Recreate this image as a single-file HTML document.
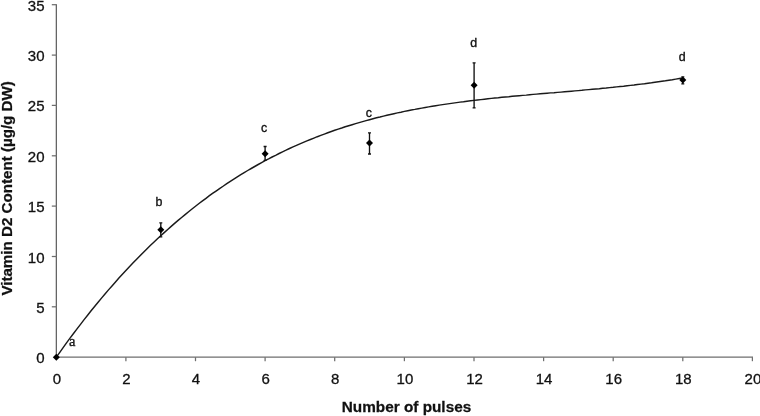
<!DOCTYPE html>
<html><head><meta charset="utf-8"><title>Vitamin D2 content vs number of pulses</title>
<style>
html,body{margin:0;padding:0;background:#fff;}
svg{display:block;filter:blur(0.4px);}
text{font-family:"Liberation Sans",Arial,Helvetica,sans-serif;fill:#111;}
.t{font-size:15px;stroke:#111;stroke-width:0.3px;}
.b{font-size:14.5px;font-weight:bold;stroke:#111;stroke-width:0.25px;}
.l{font-size:12.4px;stroke:#111;stroke-width:0.35px;}
.s{font-family:"Liberation Serif","Times New Roman",serif;font-size:14.5px;stroke:#111;stroke-width:0.3px;}
</style></head><body>
<svg width="760" height="416" viewBox="0 0 760 416">
<rect width="760" height="416" fill="#fff"/>
<g stroke="#6e6e6e" stroke-width="1.25" fill="none">
<path d="M56.3,4.7 V357.2" stroke="#4a4a4a" stroke-width="1.1"/>
<path d="M56.3,357.2 H753.0"/>
<path d="M51.8,306.8 H56.9"/>
<path d="M51.8,256.5 H56.9"/>
<path d="M51.8,206.1 H56.9"/>
<path d="M51.8,155.8 H56.9"/>
<path d="M51.8,105.4 H56.9"/>
<path d="M51.8,55.1 H56.9"/>
<path d="M51.8,4.7 H56.9"/>
<path d="M125.9,357.2 v4"/>
<path d="M195.5,357.2 v4"/>
<path d="M265.1,357.2 v4"/>
<path d="M334.7,357.2 v4"/>
<path d="M404.4,357.2 v4"/>
<path d="M474.0,357.2 v4"/>
<path d="M543.6,357.2 v4"/>
<path d="M613.2,357.2 v4"/>
<path d="M682.8,357.2 v4"/>
<path d="M752.4,357.2 v4"/>
</g>
<text class="t" x="44.5" y="363.2" text-anchor="end">0</text>
<text class="t" x="44.5" y="312.8" text-anchor="end">5</text>
<text class="t" x="44.5" y="262.5" text-anchor="end">10</text>
<text class="t" x="44.5" y="212.1" text-anchor="end">15</text>
<text class="t" x="44.5" y="161.8" text-anchor="end">20</text>
<text class="t" x="44.5" y="111.4" text-anchor="end">25</text>
<text class="t" x="44.5" y="61.1" text-anchor="end">30</text>
<text class="t" x="44.5" y="10.7" text-anchor="end">35</text>
<text class="t" x="56.8" y="384" text-anchor="middle">0</text>
<text class="t" x="126.4" y="384" text-anchor="middle">2</text>
<text class="t" x="196.0" y="384" text-anchor="middle">4</text>
<text class="t" x="265.6" y="384" text-anchor="middle">6</text>
<text class="t" x="335.2" y="384" text-anchor="middle">8</text>
<text class="t" x="404.9" y="384" text-anchor="middle">10</text>
<text class="t" x="474.5" y="384" text-anchor="middle">12</text>
<text class="t" x="544.1" y="384" text-anchor="middle">14</text>
<text class="t" x="613.7" y="384" text-anchor="middle">16</text>
<text class="t" x="683.3" y="384" text-anchor="middle">18</text>
<text class="t" x="752.9" y="384" text-anchor="middle">20</text>
<text class="b" transform="translate(406.5,411.8) scale(1.058,1)" text-anchor="middle">Number of pulses</text>
<text class="b" transform="translate(12.2,188.4) rotate(-90) scale(1.045,1)" text-anchor="middle">Vitamin D2 Content (µg/g DW)</text>
<path d="M56.3,357.2 L59.8,352.3 L63.3,347.4 L66.7,342.6 L70.2,337.9 L73.7,333.2 L77.2,328.6 L80.7,324.1 L84.1,319.6 L87.6,315.2 L91.1,310.8 L94.6,306.5 L98.1,302.3 L101.5,298.1 L105.0,294.0 L108.5,289.9 L112.0,285.9 L115.5,282.0 L118.9,278.1 L122.4,274.3 L125.9,270.5 L129.4,266.8 L132.9,263.1 L136.4,259.5 L139.8,256.0 L143.3,252.5 L146.8,249.0 L150.3,245.6 L153.8,242.3 L157.2,239.0 L160.7,235.8 L164.2,232.6 L167.7,229.5 L171.2,226.4 L174.6,223.4 L178.1,220.4 L181.6,217.5 L185.1,214.6 L188.6,211.7 L192.0,209.0 L195.5,206.2 L199.0,203.5 L202.5,200.9 L206.0,198.3 L209.4,195.7 L212.9,193.2 L216.4,190.8 L219.9,188.3 L223.4,186.0 L226.8,183.6 L230.3,181.3 L233.8,179.1 L237.3,176.9 L240.8,174.7 L244.2,172.6 L247.7,170.5 L251.2,168.5 L254.7,166.5 L258.2,164.5 L261.6,162.6 L265.1,160.7 L268.6,158.9 L272.1,157.0 L275.6,155.3 L279.1,153.5 L282.5,151.8 L286.0,150.2 L289.5,148.5 L293.0,146.9 L296.5,145.4 L299.9,143.9 L303.4,142.4 L306.9,140.9 L310.4,139.5 L313.9,138.1 L317.3,136.7 L320.8,135.4 L324.3,134.1 L327.8,132.8 L331.3,131.5 L334.7,130.3 L338.2,129.1 L341.7,128.0 L345.2,126.8 L348.7,125.7 L352.1,124.7 L355.6,123.6 L359.1,122.6 L362.6,121.6 L366.1,120.6 L369.5,119.7 L373.0,118.7 L376.5,117.8 L380.0,117.0 L383.5,116.1 L386.9,115.3 L390.4,114.5 L393.9,113.7 L397.4,112.9 L400.9,112.2 L404.4,111.4 L407.8,110.7 L411.3,110.0 L414.8,109.4 L418.3,108.7 L421.8,108.1 L425.2,107.5 L428.7,106.9 L432.2,106.3 L435.7,105.7 L439.2,105.1 L442.6,104.6 L446.1,104.1 L449.6,103.6 L453.1,103.1 L456.6,102.6 L460.0,102.1 L463.5,101.7 L467.0,101.2 L470.5,100.8 L474.0,100.4 L477.4,100.0 L480.9,99.6 L484.4,99.2 L487.9,98.8 L491.4,98.4 L494.8,98.0 L498.3,97.7 L501.8,97.3 L505.3,97.0 L508.8,96.7 L512.2,96.3 L515.7,96.0 L519.2,95.7 L522.7,95.4 L526.2,95.1 L529.6,94.7 L533.1,94.4 L536.6,94.1 L540.1,93.8 L543.6,93.5 L547.1,93.2 L550.5,92.9 L554.0,92.7 L557.5,92.4 L561.0,92.1 L564.5,91.8 L567.9,91.5 L571.4,91.2 L574.9,90.9 L578.4,90.6 L581.9,90.3 L585.3,89.9 L588.8,89.6 L592.3,89.3 L595.8,89.0 L599.3,88.7 L602.7,88.3 L606.2,88.0 L609.7,87.6 L613.2,87.3 L616.7,86.9 L620.1,86.5 L623.6,86.2 L627.1,85.8 L630.6,85.4 L634.1,85.0 L637.5,84.5 L641.0,84.1 L644.5,83.7 L648.0,83.2 L651.5,82.8 L654.9,82.3 L658.4,81.8 L661.9,81.3 L665.4,80.8 L668.9,80.2 L672.3,79.7 L675.8,79.1 L679.3,78.5 L682.8,77.9" fill="none" stroke="#1a1a1a" stroke-width="1.45" stroke-linejoin="round"/>
<path d="M52.8,357.2 L56.3,353.7 L59.8,357.2 L56.3,360.7 Z" fill="#000"/>
<path d="M160.8,222.8 V236.8 M159.3,222.8 h3 M159.3,236.8 h3" stroke="#111" stroke-width="1.35" fill="none"/>
<path d="M157.3,229.8 L160.8,226.3 L164.3,229.8 L160.8,233.3 Z" fill="#000"/>
<text class="l" x="159" y="206.2" text-anchor="middle">b</text>
<path d="M265.1,146.5 V160.3 M263.6,146.5 h3 M263.6,160.3 h3" stroke="#111" stroke-width="1.35" fill="none"/>
<path d="M261.6,153.7 L265.1,150.2 L268.6,153.7 L265.1,157.2 Z" fill="#000"/>
<text class="l" x="264" y="131.5" text-anchor="middle">c</text>
<path d="M369.5,132.9 V154 M368.0,132.9 h3 M368.0,154 h3" stroke="#111" stroke-width="1.35" fill="none"/>
<path d="M366.0,142.9 L369.5,139.4 L373.0,142.9 L369.5,146.4 Z" fill="#000"/>
<text class="l" x="368.9" y="116.6" text-anchor="middle">c</text>
<path d="M474.1,62.9 V107.8 M472.6,62.9 h3 M472.6,107.8 h3" stroke="#111" stroke-width="1.35" fill="none"/>
<path d="M470.6,85.3 L474.1,81.8 L477.6,85.3 L474.1,88.8 Z" fill="#000"/>
<text class="l" x="473.6" y="46.7" text-anchor="middle">d</text>
<path d="M682.8,76.9 V83.8 M681.3,76.9 h3 M681.3,83.8 h3" stroke="#111" stroke-width="1.35" fill="none"/>
<path d="M679.3,80.1 L682.8,76.6 L686.3,80.1 L682.8,83.6 Z" fill="#000"/>
<text class="l" x="682.3" y="61" text-anchor="middle">d</text>
<text class="s" x="72.3" y="346" text-anchor="middle">a</text>
</svg></body></html>
